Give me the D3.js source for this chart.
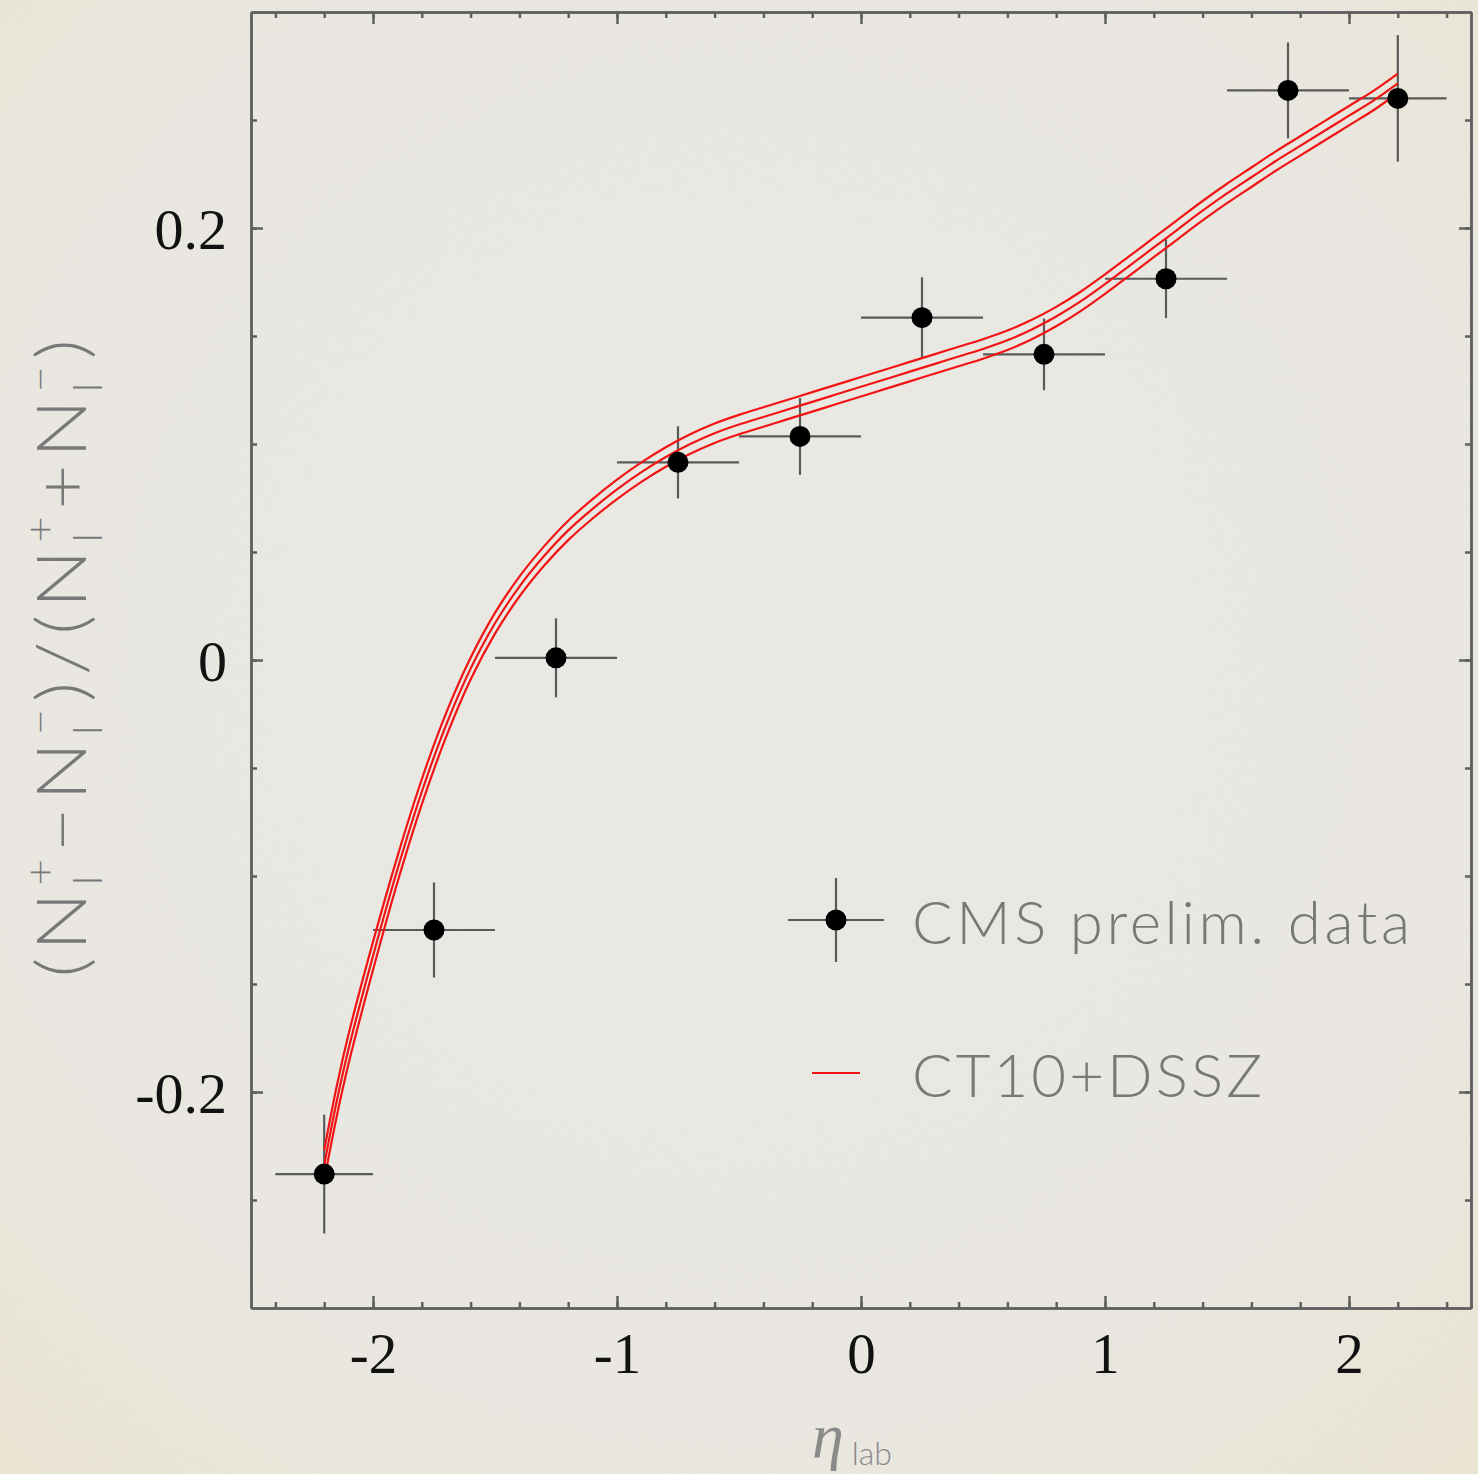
<!DOCTYPE html>
<html>
<head>
<meta charset="utf-8">
<script src="https://cdn.jsdelivr.net/npm/d3@7"></script>
<style>
  html, body { margin: 0; padding: 0; background: #e9e8e2; }
  svg { display: block; }
</style>
</head>
<body>
<div id="chart"></div>
<script>
// ---- data ----
var binEta  = [-2.2, -1.75, -1.25, -0.75, -0.25, 0.25, 0.75, 1.25, 1.75, 2.2];
var binLo   = [-2.4, -2.0, -1.5, -1.0, -0.5, 0.0, 0.5, 1.0, 1.5, 2.0];
var binHi   = [-2.0, -1.5, -1.0, -0.5, 0.0, 0.5, 1.0, 1.5, 2.0, 2.4];
var asym    = [-0.238, -0.125, 0.001, 0.0915, 0.1035, 0.1585, 0.1415, 0.1765, 0.2637, 0.260];
var asymErr = [0.0275, 0.022, 0.0183, 0.0167, 0.0178, 0.0187, 0.0166, 0.0182, 0.0222, 0.0293];

// CT10+DSSZ prediction: central value and band half-width
var curveEta = [-2.2, -2.15, -2.1, -2.0, -1.9, -1.8, -1.7, -1.6, -1.5, -1.4, -1.3, -1.2, -1.1, -1.0,
                -0.9, -0.8, -0.7, -0.6, -0.5, -0.4, -0.3, -0.2, -0.1, 0.0, 0.1, 0.2, 0.3, 0.4, 0.5,
                0.6, 0.7, 0.8, 0.9, 1.0, 1.1, 1.2, 1.3, 1.4, 1.5, 1.6, 1.7, 1.8, 1.9, 2.0, 2.1, 2.2];
var curveMid = [-0.234, -0.205, -0.180, -0.137, -0.097, -0.061, -0.030, -0.004, 0.017, 0.034, 0.048, 0.060, 0.070, 0.079,
                0.087, 0.094, 0.100, 0.105, 0.109, 0.1125, 0.116, 0.1195, 0.123, 0.1265, 0.130, 0.1335, 0.137, 0.1405, 0.144,
                0.148, 0.153, 0.159, 0.166, 0.174, 0.1825, 0.191, 0.1995, 0.208, 0.216, 0.2235, 0.231, 0.238, 0.245, 0.252, 0.259, 0.267];
var curveErr = [0.007, 0.007, 0.0068, 0.0065, 0.006, 0.0058, 0.0055, 0.005, 0.0048, 0.0046, 0.0045, 0.0045, 0.0045, 0.0045,
                0.0045, 0.0045, 0.0045, 0.0045, 0.0045, 0.0045, 0.0045, 0.0045, 0.0045, 0.0045, 0.0045, 0.0045, 0.0045, 0.0045, 0.0045,
                0.0045, 0.0045, 0.0045, 0.0045, 0.0045, 0.0045, 0.0045, 0.0045, 0.0045, 0.0045, 0.0045, 0.0045, 0.0045, 0.0045, 0.0045, 0.0045, 0.0045];

var xMajor = [-2, -1, 0, 1, 2];
var xMajorLabels = ['-2', '-1', '0', '1', '2'];
var xMinor = d3.range(-2.4, 2.41, 0.2);
var yMajor = [-0.2, 0, 0.2];
var yMajorLabels = ['-0.2', '0', '0.2'];
var yMinor = d3.range(-0.25, 0.26, 0.05);

var legendLabels = ['CMS prelim. data', 'CT10+DSSZ'];

// ---- layout ----
var W = 1478, H = 1474;
var plot = { left: 251, right: 1471, top: 12, bottom: 1308 };
var axisColor = '#606060';
var tickFont = '"Liberation Serif", "Times New Roman", serif';
var thinFont = 'Lato, Inter, "Noto Sans", sans-serif';
var greyText = '#787878';

var svg = d3.select('#chart').append('svg')
    .attr('width', W).attr('height', H);

var defs = svg.append('defs');
var grad = defs.append('radialGradient').attr('id', 'bg').attr('cx', '50%').attr('cy', '45%').attr('r', '75%');
grad.append('stop').attr('offset', '0%').attr('stop-color', '#ebeae5');
grad.append('stop').attr('offset', '70%').attr('stop-color', '#eae8e1');
grad.append('stop').attr('offset', '100%').attr('stop-color', '#ece5d3');
var noise = defs.append('filter').attr('id', 'noise').attr('x', 0).attr('y', 0).attr('width', '100%').attr('height', '100%');
noise.append('feTurbulence').attr('type', 'fractalNoise').attr('baseFrequency', 0.9).attr('numOctaves', 2).attr('seed', 3);
noise.append('feColorMatrix').attr('type', 'matrix')
    .attr('values', '0 0 0 0 0.5  0 0 0 0 0.5  0 0 0 0 0.48  0 0 0 0.07 0');

svg.append('rect').attr('width', W).attr('height', H).attr('fill', 'url(#bg)');
svg.append('rect').attr('width', W).attr('height', H).attr('filter', 'url(#noise)');

var x = d3.scaleLinear().domain([-2.5, 2.5]).range([plot.left, plot.right]);
var y = d3.scaleLinear().domain([-0.3, 0.3]).range([plot.bottom, plot.top]);

// ---- axes (ticks point inwards on all four sides) ----
function styleAxis(g) {
    g.selectAll('path.domain').attr('stroke', axisColor).attr('stroke-width', 2.5);
    g.selectAll('.tick line').attr('stroke', axisColor).attr('stroke-width', 2.5);
}
function addAxis(axis, tx, ty, withLabels) {
    var g = svg.append('g').attr('transform', 'translate(' + tx + ',' + ty + ')').call(axis);
    styleAxis(g);
    if (!withLabels) g.selectAll('.tick text').remove();
    return g;
}

// minor ticks
addAxis(d3.axisBottom(x).tickValues(xMinor).tickSize(-6).tickSizeOuter(0), 0, plot.bottom, false);
addAxis(d3.axisTop(x).tickValues(xMinor).tickSize(-6).tickSizeOuter(0), 0, plot.top, false);
addAxis(d3.axisLeft(y).tickValues(yMinor).tickSize(-6).tickSizeOuter(0), plot.left, 0, false);
addAxis(d3.axisRight(y).tickValues(yMinor).tickSize(-6).tickSizeOuter(0), plot.right, 0, false);

// major ticks
var xb = addAxis(d3.axisBottom(x).tickValues(xMajor).tickSize(-12).tickSizeOuter(0)
    .tickFormat(function(d, i) { return xMajorLabels[i]; }), 0, plot.bottom, true);
xb.selectAll('.tick text')
    .attr('y', 65).attr('dy', null)
    .attr('font-family', tickFont).attr('font-size', 57).attr('fill', '#111');
addAxis(d3.axisTop(x).tickValues(xMajor).tickSize(-12).tickSizeOuter(0), 0, plot.top, false);

var yl = addAxis(d3.axisLeft(y).tickValues(yMajor).tickSize(-12).tickSizeOuter(0)
    .tickFormat(function(d, i) { return yMajorLabels[i]; }), plot.left, 0, true);
yl.selectAll('.tick text')
    .attr('x', -24).attr('dy', '0.36em')
    .attr('font-family', tickFont).attr('font-size', 58).attr('fill', '#111');
addAxis(d3.axisRight(y).tickValues(yMajor).tickSize(-12).tickSizeOuter(0), plot.right, 0, false);

// ---- data error bars ----
var pts = binEta.map(function(e, i) {
    return { eta: e, lo: binLo[i], hi: binHi[i], v: asym[i], err: asymErr[i] };
});
var bars = svg.append('g').attr('stroke', '#5a5a5a').attr('stroke-width', 2.2);
bars.selectAll('line.h').data(pts).enter().append('line')
    .attr('x1', function(d) { return x(d.lo); }).attr('x2', function(d) { return x(d.hi); })
    .attr('y1', function(d) { return y(d.v); }).attr('y2', function(d) { return y(d.v); });
bars.selectAll('line.v').data(pts).enter().append('line')
    .attr('x1', function(d) { return x(d.eta); }).attr('x2', function(d) { return x(d.eta); })
    .attr('y1', function(d) { return y(d.v - d.err); }).attr('y2', function(d) { return y(d.v + d.err); });

// ---- prediction band: three red lines ----
var line = d3.line().curve(d3.curveCatmullRom.alpha(0.5))
    .x(function(d) { return x(d[0]); })
    .y(function(d) { return y(d[1]); });
[-1, 0, 1].forEach(function(s) {
    var ptsC = curveEta.map(function(e, i) { return [e, curveMid[i] + s * curveErr[i]]; });
    svg.append('path').datum(ptsC)
        .attr('fill', 'none').attr('stroke', '#f21414').attr('stroke-width', 2.2)
        .attr('d', line);
});

// ---- data markers ----
svg.append('g').selectAll('circle').data(pts).enter().append('circle')
    .attr('cx', function(d) { return x(d.eta); })
    .attr('cy', function(d) { return y(d.v); })
    .attr('r', 10.5).attr('fill', '#000');

// ---- legend ----
var lg = svg.append('g');
lg.append('line').attr('x1', 788).attr('x2', 884).attr('y1', 920).attr('y2', 920)
    .attr('stroke', '#5a5a5a').attr('stroke-width', 2.2);
lg.append('line').attr('x1', 836).attr('x2', 836).attr('y1', 878).attr('y2', 962)
    .attr('stroke', '#5a5a5a').attr('stroke-width', 2.2);
lg.append('circle').attr('cx', 836).attr('cy', 920).attr('r', 10.5).attr('fill', '#000');
lg.append('line').attr('x1', 812).attr('x2', 860).attr('y1', 1073).attr('y2', 1073)
    .attr('stroke', '#f21414').attr('stroke-width', 2.2);

var legendWidths = [498, 350];
var legendBase = [944, 1097];
legendLabels.forEach(function(t, i) {
    lg.append('text').attr('x', 912).attr('y', legendBase[i])
        .attr('font-family', thinFont).attr('font-weight', 300)
        .attr('font-size', 60).attr('fill', greyText)
        .attr('textLength', legendWidths[i]).attr('lengthAdjust', 'spacing')
        .text(t);
});

// ---- x title: eta_lab ----
var xt = svg.append('text').attr('x', 812).attr('y', 1457).attr('fill', '#8a8a8a');
xt.append('tspan').attr('font-family', tickFont).attr('font-style', 'italic')
    .attr('font-size', 64).text('η');
xt.append('tspan').attr('font-family', thinFont).attr('font-weight', 300)
    .attr('font-size', 32).attr('dx', 8).attr('dy', 8).text('lab');

// ---- y title: (N_l^+ - N_l^-)/(N_l^+ + N_l^-) ----
var pieces = [
    { t: '(' }, { t: 'N' }, { sub: 'l', sup: '+' }, { t: '\u2212' }, { t: 'N' }, { sub: 'l', sup: '\u2212' }, { t: ')' },
    { t: '/' },
    { t: '(' }, { t: 'N' }, { sub: 'l', sup: '+' }, { t: '+' }, { t: 'N' }, { sub: 'l', sup: '\u2212' }, { t: ')' }
];
var yt = svg.append('g');
var inner = yt.append('g');
var cursor = 0, big = 68, small = 40;
pieces.forEach(function(p) {
    if (p.t) {
        var tx = inner.append('text').attr('x', cursor).attr('y', 0)
            .attr('font-family', thinFont).attr('font-weight', 300)
            .attr('font-size', big).attr('fill', greyText).text(p.t);
        cursor += tx.node().getComputedTextLength() + 6;
    } else {
        var a = inner.append('text').attr('x', cursor).attr('y', 16)
            .attr('font-family', thinFont).attr('font-weight', 300)
            .attr('font-size', small).attr('fill', greyText).text(p.sub);
        var b = inner.append('text').attr('x', cursor).attr('y', -32)
            .attr('font-family', thinFont).attr('font-weight', 300)
            .attr('font-size', small).attr('fill', greyText).text(p.sup);
        cursor += Math.max(a.node().getComputedTextLength(), b.node().getComputedTextLength()) + 6;
    }
});
var targetLen = 645;
var sc = targetLen / cursor;
inner.attr('transform', 'scale(' + sc + ',1)');
yt.attr('transform', 'translate(86,' + (655 + targetLen / 2) + ') rotate(-90)');
</script>
</body>
</html>
